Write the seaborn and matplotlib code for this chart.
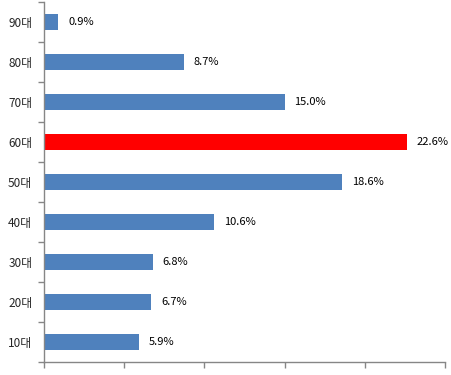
import numpy as np
import pandas as pd
import seaborn as sns
import matplotlib.pyplot as plt

ages = ['90대', '80대', '70대', '60대', '50대', '40대', '30대', '20대', '10대']
shares = [0.9, 8.7, 15.0, 22.6, 18.6, 10.6, 6.8, 6.7, 5.9]
highlight = '60대'

sns.set_style('white')
plt.rcParams['font.family'] = ['Noto Sans CJK KR', 'DejaVu Sans']

df = pd.DataFrame({'age': ages, 'share': shares})
df['grp'] = np.where(df['age'] == highlight, 'hi', 'base')

fig = plt.figure(figsize=(4.52, 3.75), dpi=100)
ax = fig.add_axes([44 / 452, 1 - 362 / 375, (445 - 44) / 452, 360 / 375])

sns.barplot(data=df, y='age', x='share', hue='grp', order=ages,
            palette={'base': '#4F81BD', 'hi': '#FF0000'},
            width=0.41, dodge=False, legend=False, ax=ax, saturation=1,
            linewidth=0)

for i, v in enumerate(shares):
    ax.annotate(f'{v:.1f}%', xy=(v, i), xytext=(7, 0), textcoords='offset points',
                va='center', ha='left', fontsize=8, color='black')

ax.set_xlim(0, 25)
ax.set_ylim(len(ages) - 0.5, -0.5)
ax.set_xticks(np.arange(0, 26, 5))
ax.set_xticklabels([])
ax.set_yticks(np.arange(-0.5, len(ages), 1))
ax.set_yticklabels([])
ax.set_yticks(np.arange(len(ages)), minor=True)
ax.set_yticklabels(ages, minor=True, fontsize=8.5)
ax.tick_params(axis='y', which='minor', left=False, length=0, pad=8.5)
ax.tick_params(axis='both', which='major', bottom=True, left=True, length=4,
               width=1, color='#868686', direction='out')
ax.set_xlabel('')
ax.set_ylabel('')

for side in ['top', 'right']:
    ax.spines[side].set_visible(False)
for side in ['left', 'bottom']:
    ax.spines[side].set_color('#868686')
    ax.spines[side].set_linewidth(1)

fig.savefig('out.png', dpi=100)
